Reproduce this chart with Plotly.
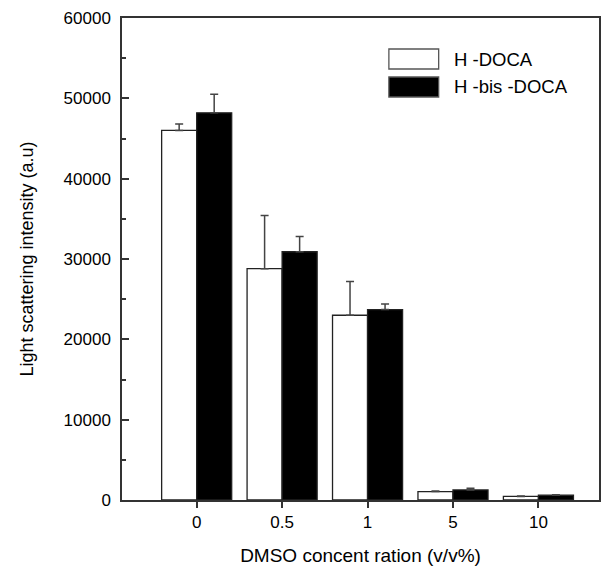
import plotly.graph_objects as go

categories = ["0", "0.5", "1", "5", "10"]
h_doca = [46000, 28800, 23000, 1050, 450]
h_doca_err = [800, 6600, 4200, 80, 40]
h_bis_doca = [48200, 30900, 23700, 1250, 600]
h_bis_doca_err = [2300, 1900, 700, 200, 60]
y_ticks = [0, 10000, 20000, 30000, 40000, 50000, 60000]

xpos = list(range(len(categories)))
FONT = "Liberation Sans, Arial, sans-serif"

fig = go.Figure()
fig.add_trace(go.Bar(
    x=xpos, y=h_doca, name="H -DOCA",
    marker=dict(color="white", line=dict(color="#222", width=1.3)),
    error_y=dict(type="data", array=h_doca_err, arrayminus=[0]*5, symmetric=False,
                 color="#444", thickness=1.5, width=4),
))
fig.add_trace(go.Bar(
    x=xpos, y=h_bis_doca, name="H -bis -DOCA",
    marker=dict(color="black", line=dict(color="#222", width=1.3)),
    error_y=dict(type="data", array=h_bis_doca_err, arrayminus=[0]*5, symmetric=False,
                 color="#444", thickness=1.5, width=4),
))

fig.update_layout(
    width=602, height=569,
    margin=dict(l=122, r=1, t=18, b=69),
    paper_bgcolor="white", plot_bgcolor="white",
    barmode="group", bargap=0.18, bargroupgap=0,
    showlegend=False,
    font=dict(family=FONT, size=17, color="black"),
)
fig.update_xaxes(
    range=[-0.874, 4.709], tickmode="array", tickvals=xpos, ticktext=categories,
    ticks="outside", ticklen=6, tickwidth=1.5, tickcolor="#333",
    showline=True, linecolor="#333", linewidth=1.5, mirror=True,
    showgrid=False, zeroline=False,
    title=dict(text="DMSO concent ration (v/v%)", font=dict(size=19), standoff=18),
    tickfont=dict(size=17),
)
fig.update_yaxes(
    range=[0, 60000], tickmode="array", tickvals=y_ticks, ticktext=[str(v) for v in y_ticks],
    ticks="inside", ticklen=7, tickwidth=1.5, tickcolor="#333",
    minor=dict(ticks="inside", ticklen=4, dtick=5000, tick0=0, tickwidth=1.5, tickcolor="#333", showgrid=False),
    showline=True, linecolor="#333", linewidth=1.5, mirror=True,
    showgrid=False, zeroline=False, ticklabelstandoff=6,
    title=dict(text="Light scattering intensity (a.u)", font=dict(size=18), standoff=25),
    tickfont=dict(size=17),
)

# Manual legend
legend_items = [("H -DOCA", "white"), ("H -bis -DOCA", "black")]
for i, (label, col) in enumerate(legend_items):
    y0 = 49 + i * 28
    fig.add_shape(type="rect", xref="paper", yref="paper",
                  x0=(390 - 122) / 479, x1=(440 - 122) / 479,
                  y0=1 - (y0 + 20 - 18) / 482, y1=1 - (y0 - 18) / 482,
                  fillcolor=col, line=dict(color="#555", width=1.3))
    fig.add_annotation(xref="paper", yref="paper",
                       x=(453 - 122) / 479, y=1 - (y0 + 10 - 18) / 482,
                       text=label, showarrow=False, xanchor="left", yanchor="middle",
                       font=dict(size=18.5, family=FONT, color="black"))

fig.write_html("out.html", config={"displayModeBar": False},
               post_script="document.body.style.margin='0';document.body.style.overflow='hidden';")
